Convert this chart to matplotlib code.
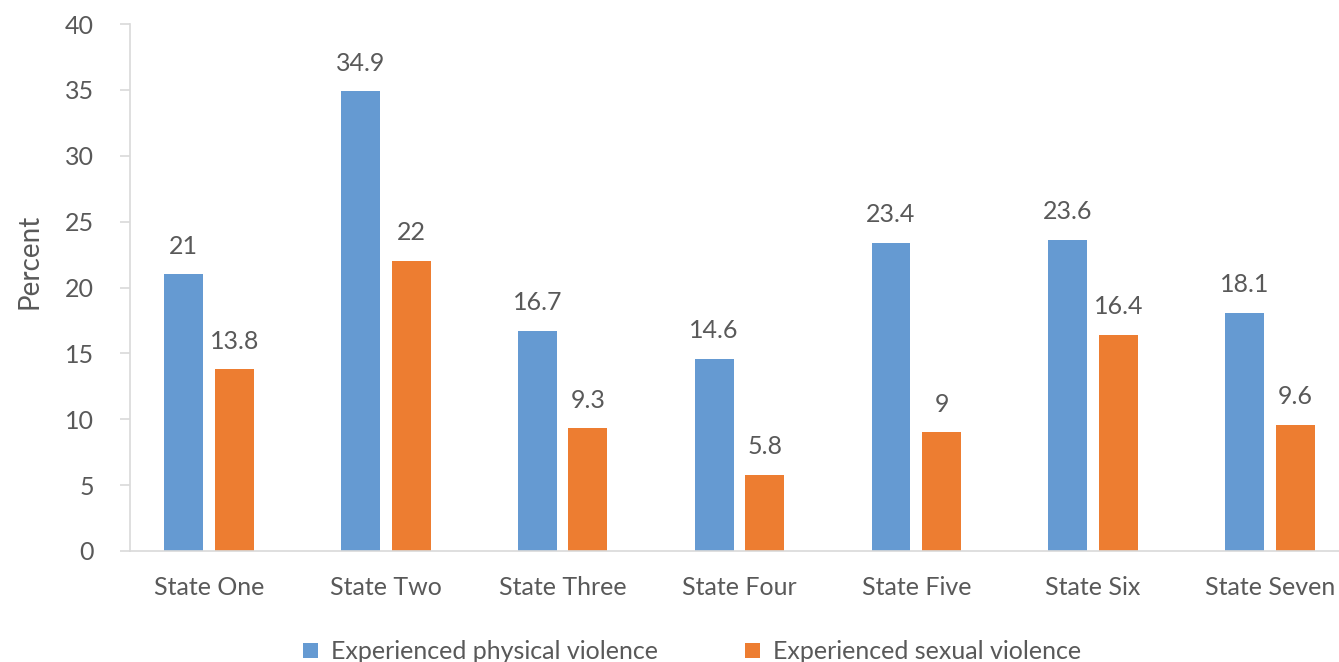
import matplotlib.pyplot as plt
import numpy as np

states = ["State One", "State Two", "State Three", "State Four",
          "State Five", "State Six", "State Seven"]
physical = [21, 34.9, 16.7, 14.6, 23.4, 23.6, 18.1]
sexual = [13.8, 22, 9.3, 5.8, 9, 16.4, 9.6]
labels = ["Experienced physical violence", "Experienced sexual violence"]

plt.rcParams['font.family'] = ['Lato', 'DejaVu Sans']
grey = '#595959'
blue = '#659AD2'
orange = '#ED7D31'

fig = plt.figure(figsize=(13.39, 6.62), dpi=100)
ax = fig.add_axes([0.097, 0.1677, 0.903, 0.796])

x = np.arange(len(states))
w = 0.22
b1 = ax.bar(x - 0.143, physical, w, color=blue, label=labels[0])
b2 = ax.bar(x + 0.143, sexual, w, color=orange, label=labels[1])

for bars, vals in [(b1, physical), (b2, sexual)]:
    for r, v in zip(bars, vals):
        ax.annotate(f"{v:g}", (r.get_x() + r.get_width() / 2, v),
                    xytext=(0, 12), textcoords='offset points',
                    ha='center', va='bottom', fontsize=18, color=grey)

ax.set_xlim(-0.447, 6.39)
ax.set_ylim(0, 40)
ax.set_yticks(range(0, 41, 5))
ax.set_xticks(x)
ax.set_xticklabels(states)

for s in ['top', 'right']:
    ax.spines[s].set_visible(False)
ax.spines['left'].set_color('#d9d9d9')
ax.spines['bottom'].set_color('#d9d9d9')
ax.spines['left'].set_linewidth(1.2)
ax.spines['bottom'].set_linewidth(1.2)
ax.tick_params(axis='y', length=7, width=1.2, color='#d9d9d9',
               labelsize=18, labelcolor=grey, pad=19)
ax.tick_params(axis='x', length=0, labelsize=18, labelcolor=grey, pad=18)

ax.set_ylabel("Percent", fontsize=20, color=grey)
ax.yaxis.set_label_coords(-0.072, 0.55)

fig.legend(loc='lower center', bbox_to_anchor=(0.517, -0.036), ncol=2,
           frameon=False, fontsize=18, labelcolor=grey,
           handlelength=0.6, handleheight=0.6, handletextpad=0.5,
           columnspacing=3.5)

fig.savefig("out.png", dpi=100)
